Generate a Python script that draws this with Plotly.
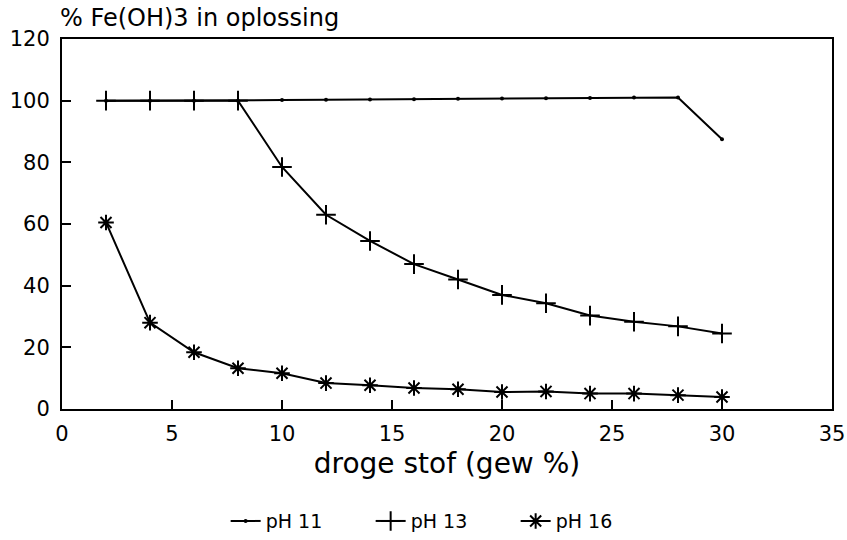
import plotly.graph_objects as go

x_vals = [2, 4, 6, 8, 10, 12, 14, 16, 18, 20, 22, 24, 26, 28, 30]
ph11 = [100, 100, 100, 100, 100.2, 100.3, 100.4, 100.5, 100.6, 100.7, 100.8, 100.9, 101, 101, 87.5]
ph13 = [100, 100, 100, 100, 78.5, 63, 54.5, 47, 42, 37, 34.3, 30.3, 28.3, 26.8, 24.5]
ph16 = [60.5, 28, 18.4, 13.2, 11.6, 8.4, 7.7, 6.8, 6.4, 5.5, 5.7, 5, 5, 4.5, 3.9]

x_ticks = [0, 5, 10, 15, 20, 25, 30, 35]
y_ticks = [0, 20, 40, 60, 80, 100, 120]

series_names = ["pH 11", "pH 13", "pH 16"]

FONT = "DejaVu Sans"

fig = go.Figure()
fig.add_trace(go.Scatter(
    x=x_vals, y=ph11, name=series_names[0], mode="lines+markers",
    line=dict(color="black", width=2),
    marker=dict(symbol="circle", size=4, color="black"),
))
fig.add_trace(go.Scatter(
    x=x_vals, y=ph13, name=series_names[1], mode="lines+markers",
    line=dict(color="black", width=2),
    marker=dict(symbol="cross-thin", size=14, color="black",
                line=dict(color="black", width=2)),
))
fig.add_trace(go.Scatter(
    x=x_vals, y=ph16, name=series_names[2], mode="lines+markers",
    line=dict(color="black", width=2),
    marker=dict(symbol="asterisk", size=13, color="black",
                line=dict(color="black", width=2)),
))

fig.update_layout(
    width=847, height=540,
    paper_bgcolor="white", plot_bgcolor="white",
    margin=dict(l=62, r=15, t=39, b=131, autoexpand=False),
    font=dict(family=FONT, color="black", size=18),
    showlegend=True,
    legend=dict(orientation="h", x=0.495, xanchor="center",
                yref="container", y=0.035, yanchor="middle",
                font=dict(size=19, family=FONT), itemwidth=30, tracegroupgap=0,
                entrywidth=100),
    xaxis=dict(
        range=[0, 35], tickvals=x_ticks, ticktext=[str(v) for v in x_ticks],
        ticks="inside", ticklen=9, tickwidth=1.5, tickcolor="black",
        showline=True, linecolor="black", linewidth=2, mirror=True,
        showgrid=False, zeroline=False, automargin=False,
        tickfont=dict(size=21, family=FONT), ticklabelstandoff=5,
        title=dict(text="droge stof (gew %)", font=dict(size=28, family=FONT), standoff=8),
    ),
    yaxis=dict(
        range=[0, 120], tickvals=y_ticks, ticktext=[str(v) for v in y_ticks],
        ticks="inside", ticklen=9, tickwidth=1.5, tickcolor="black",
        showline=True, linecolor="black", linewidth=2, mirror=True,
        showgrid=False, zeroline=False, automargin=False,
        tickfont=dict(size=21, family=FONT), ticklabelstandoff=6,
    ),
    annotations=[dict(
        text="% Fe(OH)3 in oplossing", xref="paper", yref="paper",
        x=-0.005, y=1.0, xanchor="left", yanchor="bottom", yshift=5,
        showarrow=False, font=dict(size=24, family=FONT),
    )],
)

fig.write_html("out.html", config={"displayModeBar": False},
               post_script="document.body.style.margin='0';")
